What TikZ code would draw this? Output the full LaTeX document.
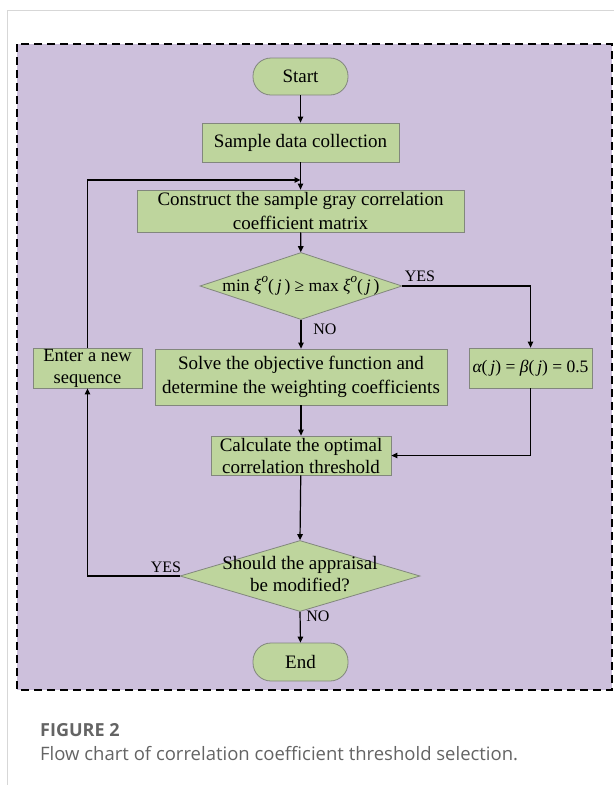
\documentclass[tikz,border=0pt]{standalone}
\usepackage{fontspec}
\setmainfont{Liberation Serif}
\newfontfamily\capfont{Open Sans}
\usetikzlibrary{shapes.geometric,arrows.meta}
\definecolor{bgpurple}{RGB}{205,192,220}
\definecolor{boxgreen}{RGB}{190,213,157}
\definecolor{boxline}{RGB}{130,135,125}
\definecolor{captext}{RGB}{100,100,100}
\definecolor{cardline}{RGB}{215,215,215}
\tikzset{
  proc/.style={draw=boxline, fill=boxgreen, line width=0.8pt, inner sep=0pt,
    align=center, font=\fontsize{19}{23.5}\selectfont},
  term/.style={proc, rounded corners=18pt},
  dec/.style={diamond, draw=boxline, fill=boxgreen, line width=0.8pt, inner sep=0pt,
    font=\fontsize{19}{22}\selectfont},
  flow/.style={line width=1.2pt, -{Triangle[length=6pt,width=5.5pt]}},
  tag/.style={font=\fontsize{16}{18}\selectfont, inner sep=0pt},
}
\newcommand{\ital}[1]{{\itshape #1}}
\newcommand{\supo}{\raisebox{0.5em}{\fontsize{13}{13}\selectfont\itshape o}}
\begin{document}
\begin{tikzpicture}[x=1pt,y=-1pt]
\useasboundingbox (0,0) rectangle (614,785);
\fill[white] (0,0) rectangle (614,785);
% card edge
\draw[cardline, line width=1pt] (7,785) -- (7,10) -- (614,10);
% dashed panel
\draw[fill=bgpurple, line width=1.2pt, dash pattern=on 8pt off 5pt] (17,44) rectangle (612,690);

% process steps
\node[term, minimum width=95pt, minimum height=37pt] (start) at (300.5,76.5) {Start};
\node[proc, minimum width=197pt, minimum height=39pt] (sample) at (300.5,142.5) {Sample data collection};
\node[proc, minimum width=327pt, minimum height=42pt] (construct) at (300.5,211) {Construct the sample gray correlation\\coefficient matrix};
\node[dec, minimum width=202pt, minimum height=67pt] (d1) at (301,286)
  {\makebox[0pt]{\fontsize{17.5}{19}\selectfont min \ital{ξ}\supo(\,\ital{j}\,) ≥ max \ital{ξ}\supo(\,\ital{j}\,)}};
\node[proc, minimum width=292pt, minimum height=56pt] (solve) at (301,377) {Solve the objective function and\\determine the weighting coefficients};
\node[proc, minimum width=109pt, minimum height=40pt, font=\fontsize{18.5}{22}\selectfont] (enter) at (87.5,368) {Enter a new\\sequence};
\node[proc, minimum width=123pt, minimum height=40pt, font=\fontsize{17.5}{19}\selectfont] (alpha) at (530.5,368)
  {\ital{α}(\,\ital{j}) = \ital{β}(\,\ital{j}) = 0.5};
\node[proc, minimum width=180pt, minimum height=39pt, font=\fontsize{19}{22}\selectfont] (calc) at (301,455.5) {Calculate the optimal\\correlation threshold};
\node[dec, minimum width=240pt, minimum height=71pt] (d2) at (300,576)
  {\makebox[0pt]{\begin{tabular}{@{}c@{}}Should the appraisal\\be modified?\end{tabular}}};
\node[term, minimum width=95pt, minimum height=38pt] (end) at (300.5,662) {End};

% branch labels
\node[tag] (yes1) at (420,276) {YES};
\node[tag] (no1) at (325,329) {NO};
\node[tag] (yes2) at (166,567) {YES};
\node[tag] (no2) at (318,616) {NO};

% connectors
\coordinate (join) at (300.5,180);
\draw[flow] (start) -- (sample);
\draw[flow] (sample) -- (construct);
\draw[flow] (construct) -- (d1);
\draw[flow] (d1.south) -- (solve.north);
\draw[flow] (d1.east) -| (alpha.north);
\draw[flow] (solve) -- (calc);
\draw[flow] (alpha.south) |- (calc.east);
\draw[flow] (calc) -- (d2.north);
\draw[flow] (d2.south) -- (end.north);
\draw[flow] (d2.west) -| (enter.south);
\draw[flow] (enter.north) |- (join);

% caption
\node[anchor=base west, inner sep=0pt, text=captext, font=\capfont\fontsize{18}{20}\selectfont\bfseries] (figno) at (40,736) {FIGURE 2};
\node[anchor=base west, inner sep=0pt, text=captext, font=\capfont\fontsize{18.5}{20}\selectfont] (captxt) at (40,760) {Flow chart of correlation coefficient threshold selection.};
\end{tikzpicture}
\end{document}
